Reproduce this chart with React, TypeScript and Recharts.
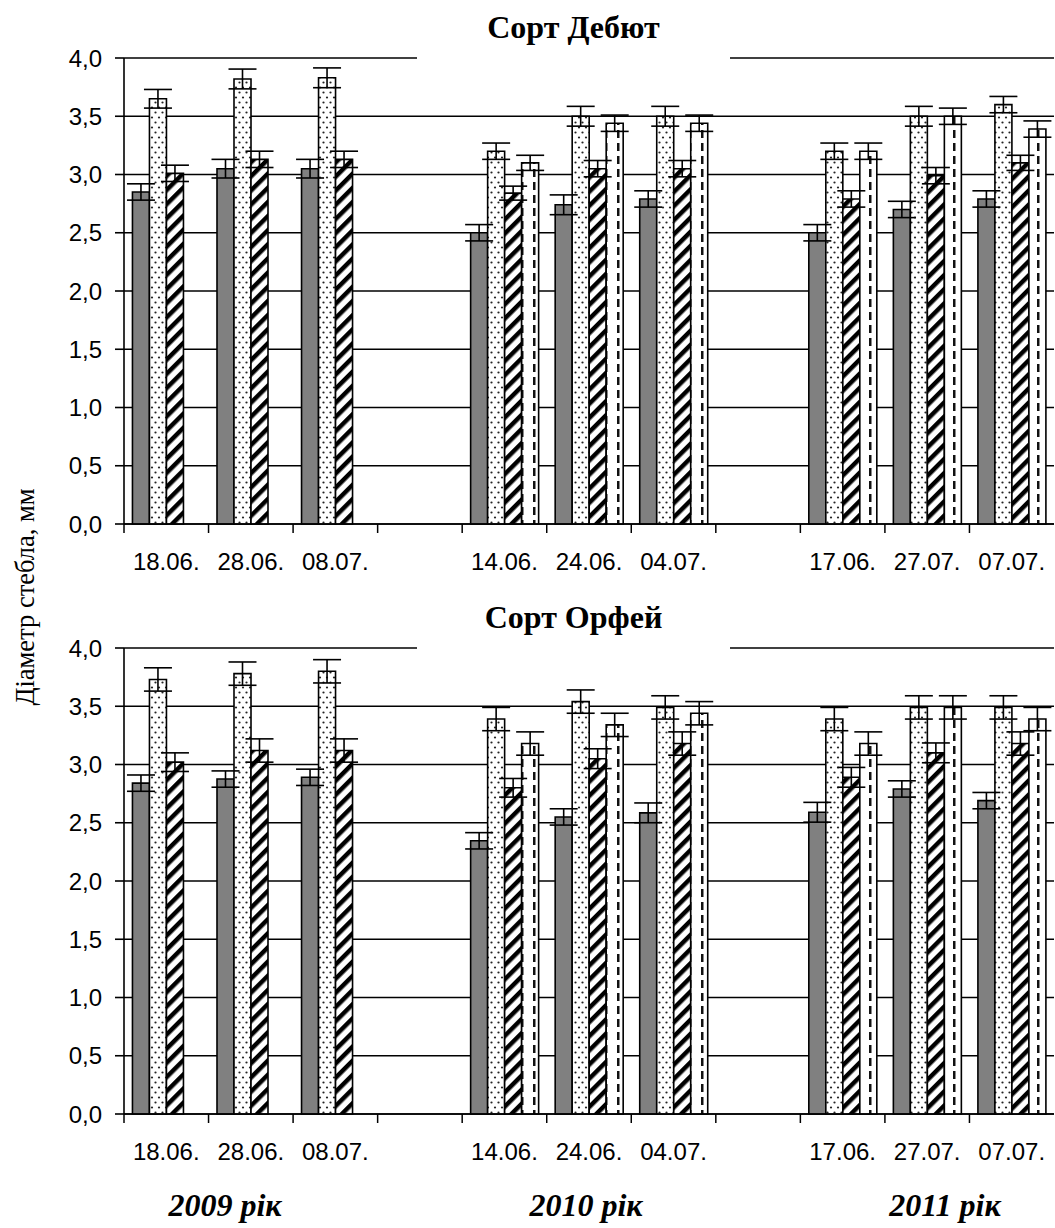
import React from 'react'
import { BarChart, Bar, XAxis, YAxis, CartesianGrid, ErrorBar } from 'recharts'

// x categories (empty slots separate the years)
const dates = ['18.06.', '28.06.', '08.07.', '', '14.06.', '24.06.', '04.07.', '', '17.06.', '27.07.', '07.07.']
const yTicks = [0, 0.5, 1, 1.5, 2, 2.5, 3, 3.5, 4]
const years = ['2009 рік', '2010 рік', '2011 рік']

// Сорт Дебют
const debutGray = [2.85, 3.05, 3.05, null, 2.5, 2.74, 2.79, null, 2.5, 2.7, 2.79]
const debutGrayErr = [0.07, 0.08, 0.08, null, 0.07, 0.085, 0.07, null, 0.07, 0.07, 0.07]
const debutDots = [3.65, 3.82, 3.83, null, 3.2, 3.5, 3.5, null, 3.2, 3.5, 3.6]
const debutDotsErr = [0.08, 0.085, 0.085, null, 0.07, 0.085, 0.085, null, 0.07, 0.085, 0.07]
const debutHatch = [3.01, 3.13, 3.13, null, 2.84, 3.05, 3.05, null, 2.79, 2.99, 3.1]
const debutHatchErr = [0.07, 0.07, 0.07, null, 0.06, 0.07, 0.07, null, 0.07, 0.07, 0.065]
const debutDash = [null, null, null, null, 3.1, 3.44, 3.44, null, 3.2, 3.5, 3.39]
const debutDashErr = [null, null, null, null, 0.065, 0.07, 0.07, null, 0.07, 0.07, 0.07]

// Сорт Орфей
const orfeyGray = [2.84, 2.875, 2.89, null, 2.345, 2.55, 2.585, null, 2.59, 2.79, 2.69]
const orfeyGrayErr = [0.07, 0.07, 0.07, null, 0.07, 0.07, 0.085, null, 0.085, 0.07, 0.07]
const orfeyDots = [3.73, 3.78, 3.8, null, 3.39, 3.54, 3.49, null, 3.39, 3.49, 3.49]
const orfeyDotsErr = [0.1, 0.1, 0.1, null, 0.1, 0.1, 0.1, null, 0.1, 0.1, 0.1]
const orfeyHatch = [3.02, 3.12, 3.12, null, 2.8, 3.05, 3.18, null, 2.89, 3.1, 3.18]
const orfeyHatchErr = [0.08, 0.1, 0.1, null, 0.08, 0.085, 0.1, null, 0.085, 0.085, 0.1]
const orfeyDash = [null, null, null, null, 3.18, 3.34, 3.44, null, 3.18, 3.49, 3.39]
const orfeyDashErr = [null, null, null, null, 0.1, 0.1, 0.1, null, 0.1, 0.1, 0.1]

const SANS = '"Liberation Sans", Arial, sans-serif'
const SERIF = '"Liberation Serif", "Times New Roman", serif'

const W = 1055
const CH = 574
const PLOT_L = 124
const PLOT_R = 1054

type Num = number | null

function buildRows(g: Num[], ge: Num[], d: Num[], de: Num[], h: Num[], he: Num[], s: Num[], se: Num[]) {
  return dates.map((date, i) => ({
    date, i,
    gray: g[i], grayErr: ge[i],
    dots: d[i], dotsErr: de[i],
    hatch: h[i], hatchErr: he[i],
    dash: s[i], dashErr: se[i],
  }))
}

const debutRows = buildRows(debutGray, debutGrayErr, debutDots, debutDotsErr, debutHatch, debutHatchErr, debutDash, debutDashErr)
const orfeyRows = buildRows(orfeyGray, orfeyGrayErr, orfeyDots, orfeyDotsErr, orfeyHatch, orfeyHatchErr, orfeyDash, orfeyDashErr)

// tick line on the category boundary, label in the middle
// eslint-disable-next-line @typescript-eslint/no-explicit-any
function DateTick(props: any) {
  const { x, y, payload } = props
  const bw = (PLOT_R - PLOT_L) / dates.length
  const lx = x - bw / 2
  return (
    <g>
      <line x1={lx} y1={y} x2={lx} y2={y + 9} stroke="#000" strokeWidth={1.5} />
      <text x={x} y={y + 46} textAnchor="middle" fontSize={24} fontFamily={SANS} fill="#000">
        {payload.value}
      </text>
    </g>
  )
}

function Panel({ rows, id }: { rows: ReturnType<typeof buildRows>; id: string }) {
  const errProps = { width: 14, stroke: '#000', strokeWidth: 1.6, direction: 'y' as const }
  const barProps = { stroke: '#000', strokeWidth: 1.6, isAnimationActive: false }
  return (
    <BarChart width={W} height={CH} data={rows} margin={{ top: 58, right: 1, bottom: 0, left: 0 }}
      barCategoryGap="10%" barGap={0}>
      <defs>
        <pattern id={`${id}-dots`} width="7" height="10" patternUnits="userSpaceOnUse">
          <rect width="7" height="10" fill="#fff" />
          <circle cx="1.5" cy="2.5" r="1.1" fill="#222" />
          <circle cx="5" cy="7.5" r="1.1" fill="#222" />
        </pattern>
        <pattern id={`${id}-hatch`} width="10" height="10" patternUnits="userSpaceOnUse" patternTransform="rotate(45)">
          <rect width="10" height="10" fill="#fff" />
          <rect width="4.5" height="10" fill="#000" />
        </pattern>
        <pattern id={`${id}-dash`} width="12" height="13" patternUnits="userSpaceOnUse">
          <rect width="12" height="13" fill="#fff" />
          <rect x="5" y="0" width="2.5" height="8" fill="#111" />
        </pattern>
      </defs>
      <CartesianGrid vertical={false} stroke="#000" strokeWidth={1.6} />
      <XAxis dataKey="date" height={50} tickSize={0} tickMargin={0} tickLine={false}
        axisLine={{ stroke: '#000', strokeWidth: 1.6 }} interval={0} tick={DateTick} />
      <YAxis domain={[0, 4]} ticks={yTicks} width={124} tickSize={9} tickMargin={13}
        tickLine={{ stroke: '#000', strokeWidth: 1.6 }} axisLine={{ stroke: '#000', strokeWidth: 1.6 }}
        tick={{ fontSize: 24, fill: '#000', fontFamily: SANS }}
        tickFormatter={(v: number) => v.toFixed(1).replace('.', ',')} />
      <Bar dataKey="gray" fill="#808080" {...barProps}>
        <ErrorBar dataKey="grayErr" {...errProps} />
      </Bar>
      <Bar dataKey="dots" fill={`url(#${id}-dots)`} {...barProps}>
        <ErrorBar dataKey="dotsErr" {...errProps} />
      </Bar>
      <Bar dataKey="hatch" fill={`url(#${id}-hatch)`} {...barProps}>
        <ErrorBar dataKey="hatchErr" {...errProps} />
      </Bar>
      <Bar dataKey="dash" fill={`url(#${id}-dash)`} {...barProps}>
        <ErrorBar dataKey="dashErr" {...errProps} />
      </Bar>
    </BarChart>
  )
}

function Title({ text, top }: { text: string; top: number }) {
  return (
    <div style={{
      position: 'absolute', left: 417, width: 313, top, height: 64, background: '#fff',
      display: 'flex', alignItems: 'flex-end', justifyContent: 'center',
    }}>
      <span style={{ fontFamily: SERIF, fontWeight: 700, fontSize: 32, lineHeight: '32px', marginBottom: 17 }}>
        {text}
      </span>
    </div>
  )
}

const yearX = [225, 586, 945]

export default function App() {
  return (
    <div style={{ position: 'absolute', left: 0, top: 0, width: W, height: 1228, background: '#fff', overflow: 'hidden' }}>
      <div style={{ position: 'absolute', left: 0, top: 0 }}>
        <Panel rows={debutRows} id="debut" />
      </div>
      <div style={{ position: 'absolute', left: 0, top: 590 }}>
        <Panel rows={orfeyRows} id="orfey" />
      </div>
      <Title text="Сорт Дебют" top={-4} />
      <Title text="Сорт Орфей" top={586} />
      <div style={{
        position: 'absolute', left: 25, top: 597, transform: 'translate(-50%, -50%) rotate(-90deg)',
        whiteSpace: 'nowrap', fontFamily: SERIF, fontSize: 26.5, lineHeight: '27px',
      }}>
        Діаметр стебла, мм
      </div>
      {years.map((y, i) => (
        <div key={y} style={{
          position: 'absolute', left: yearX[i], top: 1187, transform: 'translateX(-50%)',
          whiteSpace: 'nowrap', fontFamily: SERIF, fontWeight: 700, fontStyle: 'italic', fontSize: 32, lineHeight: '36px',
        }}>
          {y}
        </div>
      ))}
    </div>
  )
}
